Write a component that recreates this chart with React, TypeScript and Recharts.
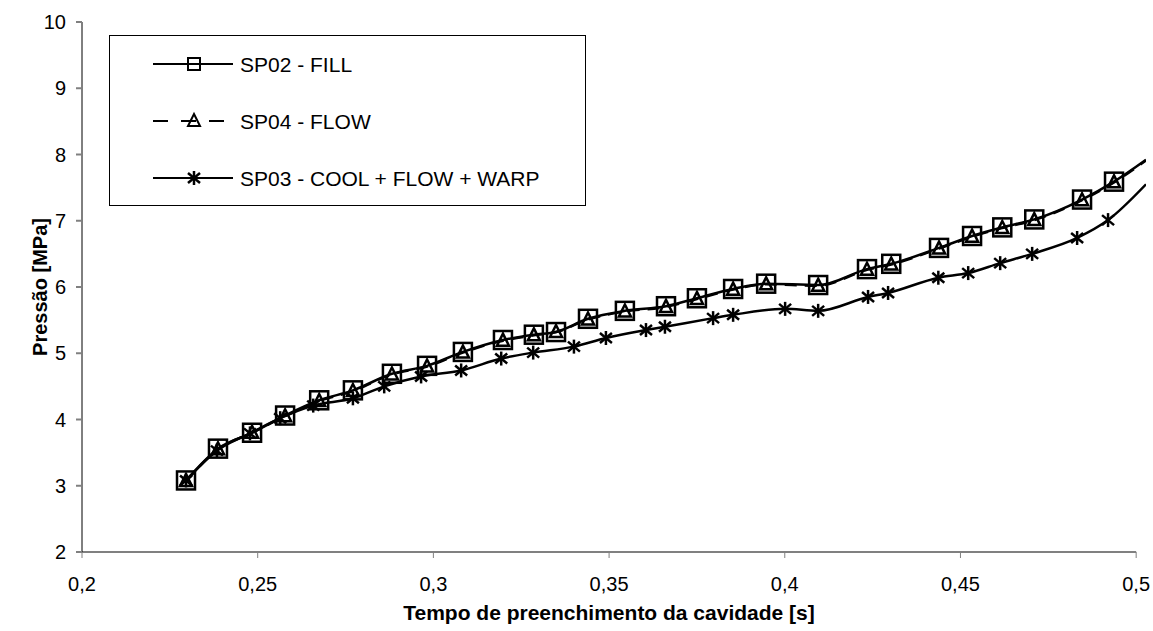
import React from 'react';
import { LineChart, Line, XAxis, YAxis, ReferenceLine, Label } from 'recharts';

// SP02 - FILL (squares)
const xSP02 = [0.2296, 0.2387, 0.2484, 0.2578, 0.2675, 0.2771, 0.2882, 0.2982, 0.3084, 0.3198, 0.3286, 0.3349, 0.3440, 0.3545, 0.3662, 0.3750, 0.3853, 0.3947, 0.4095, 0.4234, 0.4303, 0.4439, 0.4533, 0.4619, 0.4710, 0.4846, 0.4937, 0.5028];
const ySP02 = [3.08, 3.56, 3.80, 4.06, 4.29, 4.44, 4.69, 4.81, 5.02, 5.20, 5.28, 5.32, 5.52, 5.64, 5.71, 5.83, 5.97, 6.05, 6.03, 6.27, 6.35, 6.59, 6.77, 6.90, 7.02, 7.32, 7.59, 7.92];

// SP04 - FLOW (triangles)
const xSP04 = [0.2296, 0.2387, 0.2484, 0.2578, 0.2675, 0.2771, 0.2882, 0.2982, 0.3084, 0.3198, 0.3286, 0.3349, 0.3440, 0.3545, 0.3662, 0.3750, 0.3853, 0.3947, 0.4095, 0.4234, 0.4303, 0.4439, 0.4533, 0.4619, 0.4710, 0.4846, 0.4937, 0.5028];
const ySP04 = [3.07, 3.55, 3.80, 4.05, 4.28, 4.43, 4.68, 4.80, 5.01, 5.19, 5.27, 5.32, 5.51, 5.63, 5.70, 5.82, 5.96, 6.04, 6.02, 6.26, 6.34, 6.58, 6.76, 6.89, 7.01, 7.31, 7.58, 7.91];

// SP03 - COOL + FLOW + WARP (asterisks)
const xSP03 = [0.2296, 0.2384, 0.2478, 0.2564, 0.2658, 0.2771, 0.2860, 0.2965, 0.3079, 0.3193, 0.3284, 0.3400, 0.3491, 0.3605, 0.3659, 0.3796, 0.3853, 0.4001, 0.4095, 0.4237, 0.4294, 0.4437, 0.4522, 0.4613, 0.4704, 0.4832, 0.4920, 0.5028];
const ySP03 = [3.08, 3.53, 3.79, 4.02, 4.21, 4.32, 4.50, 4.65, 4.74, 4.92, 5.01, 5.10, 5.23, 5.35, 5.40, 5.53, 5.58, 5.67, 5.64, 5.85, 5.91, 6.14, 6.21, 6.36, 6.50, 6.74, 7.01, 7.55];

const xTicks = [0.2, 0.25, 0.3, 0.35, 0.4, 0.45, 0.5];
const yTicks = [2, 3, 4, 5, 6, 7, 8, 9, 10];

const seriesNames = ['SP02 - FILL', 'SP04 - FLOW', 'SP03 - COOL + FLOW + WARP'];

const toData = (xs: number[], ys: number[]) => xs.map((x, i) => ({ x, y: ys[i] }));
const dataSP02 = toData(xSP02, ySP02);
const dataSP04 = toData(xSP04, ySP04);
const dataSP03 = toData(xSP03, ySP03);

const FONT = '"Liberation Sans", Arial, sans-serif';

const SquareDot = (props: any) => {
  const { cx, cy, index } = props;
  if (index === dataSP02.length - 1 || cx == null) return <g key={`sq-${index}`} />;
  return <rect key={`sq-${index}`} x={cx - 9} y={cy - 9} width={18} height={18} fill="none" stroke="#000" strokeWidth={2.5} />;
};

const TriangleDot = (props: any) => {
  const { cx, cy, index } = props;
  if (index === dataSP04.length - 1 || cx == null) return <g key={`tr-${index}`} />;
  return <path key={`tr-${index}`} d={`M${cx},${cy - 7} L${cx + 6},${cy + 5} L${cx - 6},${cy + 5} Z`} fill="none" stroke="#000" strokeWidth={2.5} strokeLinejoin="miter" />;
};

const StarDot = (props: any) => {
  const { cx, cy, index } = props;
  if (index === dataSP03.length - 1 || cx == null) return <g key={`st-${index}`} />;
  return (
    <g key={`st-${index}`} stroke="#000" strokeWidth={2.5}>
      <line x1={cx} y1={cy - 7} x2={cx} y2={cy + 7} />
      <line x1={cx - 6} y1={cy - 5} x2={cx + 6} y2={cy + 5} />
      <line x1={cx - 6} y1={cy + 5} x2={cx + 6} y2={cy - 5} />
    </g>
  );
};

const fmt = (v: number) => String(v).replace('.', ',');

const YTitle = (props: any) => (
  <text x={40} y={287} transform="rotate(-90 40 287)" textAnchor="middle" dominantBaseline="central" fontFamily={FONT} fontWeight="bold" fontSize={20} fill="#000">
    Pressão [MPa]
  </text>
);

const XTitle = (props: any) => (
  <text x={609} y={612} textAnchor="middle" dominantBaseline="central" fontFamily={FONT} fontWeight="bold" fontSize={21} fill="#000">
    Tempo de preenchimento da cavidade [s]
  </text>
);

const LegendBox = () => {
  const rows = [28, 85, 142];
  return (
    <div style={{ position: 'absolute', left: 109, top: 35, width: 477, height: 171, boxSizing: 'border-box', border: '1.5px solid #000', background: '#fff' }}>
      <svg width={474} height={168} style={{ position: 'absolute', left: 0, top: 0 }}>
        {/* row 1 */}
        <line x1={43} y1={rows[0]} x2={123} y2={rows[0]} stroke="#000" strokeWidth={2} />
        <rect x={78} y={rows[0] - 6} width={12} height={12} fill="none" stroke="#000" strokeWidth={2} />
        {/* row 2 */}
        <line x1={43} y1={rows[1]} x2={123} y2={rows[1]} stroke="#000" strokeWidth={2} strokeDasharray="15 13" />
        <path d={`M84,${rows[1] - 7} L90,${rows[1] + 5} L78,${rows[1] + 5} Z`} fill="none" stroke="#000" strokeWidth={2} />
        {/* row 3 */}
        <line x1={43} y1={rows[2]} x2={123} y2={rows[2]} stroke="#000" strokeWidth={2} />
        <g stroke="#000" strokeWidth={2.5}>
          <line x1={84} y1={rows[2] - 7} x2={84} y2={rows[2] + 7} />
          <line x1={78} y1={rows[2] - 5} x2={90} y2={rows[2] + 5} />
          <line x1={78} y1={rows[2] + 5} x2={90} y2={rows[2] - 5} />
        </g>
        {seriesNames.map((n, i) => (
          <text key={n} x={130} y={rows[i]} dominantBaseline="central" fontFamily={FONT} fontSize={21} fill="#000">{n}</text>
        ))}
      </svg>
    </div>
  );
};

export default function App() {
  return (
    <div style={{ position: 'absolute', left: 0, top: 0, width: 1153, height: 631, background: '#fff' }}>
      <LineChart width={1153} height={631} margin={{ top: 22, right: 7, bottom: 0, left: 0 }}>
        <XAxis
          type="number"
          dataKey="x"
          domain={[0.2, 0.5028]}
          allowDataOverflow
          ticks={xTicks}
          tickFormatter={fmt}
          axisLine={false}
          tickLine={{ stroke: '#808080', strokeWidth: 1 }}
          tickSize={6}
          tickMargin={19}
          height={79}
          interval={0}
          tick={{ fontSize: 20, fill: '#000', fontFamily: FONT }}
        >
          <Label content={<XTitle />} />
        </XAxis>
        <YAxis
          type="number"
          dataKey="y"
          domain={[2, 10]}
          ticks={yTicks}
          interval={0}
          axisLine={{ stroke: '#000', strokeWidth: 1 }}
          tickLine={{ stroke: '#808080', strokeWidth: 2 }}
          tickSize={6}
          tickMargin={10}
          width={82}
          tick={{ fontSize: 20, fill: '#000', fontFamily: FONT }}
        >
          <Label content={<YTitle />} />
        </YAxis>
        <ReferenceLine segment={[{ x: 0.2, y: 2 }, { x: 0.5, y: 2 }]} stroke="#808080" strokeWidth={2} ifOverflow="visible" />
        <Line data={dataSP03} dataKey="y" type="monotone" stroke="#000" strokeWidth={2.5} dot={StarDot} isAnimationActive={false} name={seriesNames[2]} />
        <Line data={dataSP04} dataKey="y" type="monotone" stroke="#000" strokeWidth={2.5} strokeDasharray="12 8" dot={TriangleDot} isAnimationActive={false} name={seriesNames[1]} />
        <Line data={dataSP02} dataKey="y" type="monotone" stroke="#000" strokeWidth={2.5} dot={SquareDot} isAnimationActive={false} name={seriesNames[0]} />
      </LineChart>
      <LegendBox />
    </div>
  );
}
